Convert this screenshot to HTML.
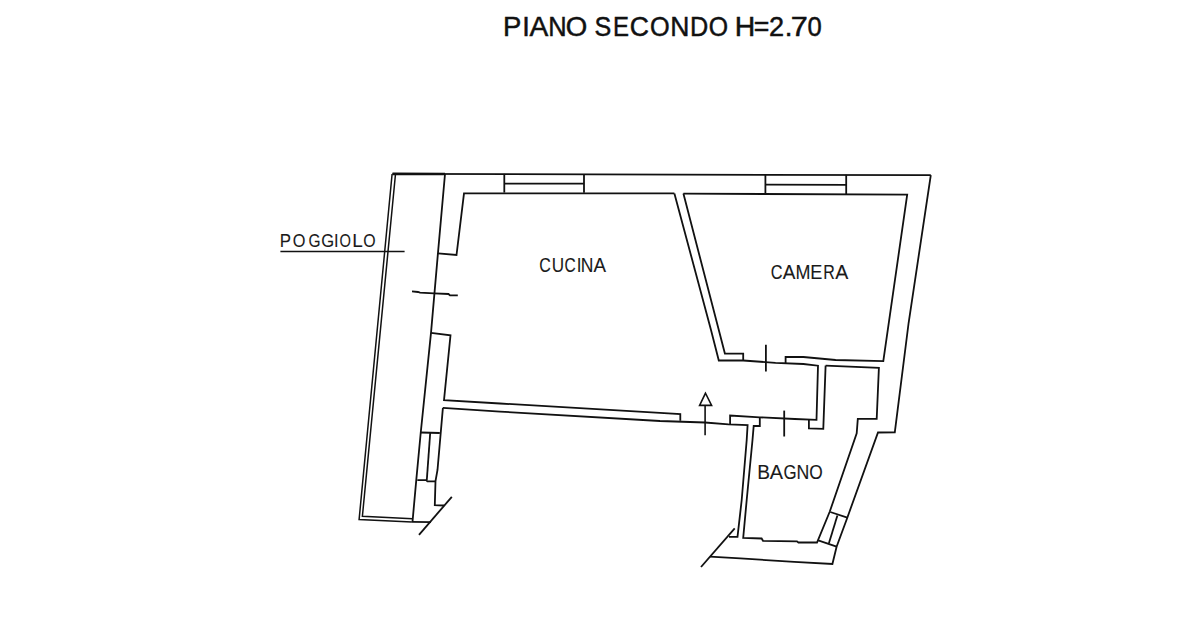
<!DOCTYPE html>
<html><head><meta charset="utf-8">
<style>
html,body{margin:0;padding:0;background:#fff;}
body{width:1200px;height:630px;overflow:hidden;position:relative;}
svg{position:absolute;left:0;top:0;}
</style></head>
<body>
<svg width="1200" height="630" viewBox="0 0 1200 630">
<g fill="#111" font-family="Liberation Sans, sans-serif" font-size="150">
<g stroke="#111" stroke-width="2.6">
<text transform="translate(503.05,36.02) scale(0.1831,0.1849)">P</text>
<text transform="translate(522.27,36.02) scale(0.1812,0.1849)">I</text>
<text transform="translate(529.41,36.02) scale(0.1878,0.1849)">A</text>
<text transform="translate(548.21,36.02) scale(0.1696,0.1849)">N</text>
<text transform="translate(565.81,36.02) scale(0.1843,0.1849)">O</text>
<text transform="translate(594.43,36.02) scale(0.1674,0.1849)">S</text>
<text transform="translate(613.08,36.02) scale(0.1598,0.1849)">E</text>
<text transform="translate(629.68,36.02) scale(0.1771,0.1849)">C</text>
<text transform="translate(650.12,36.02) scale(0.1686,0.1849)">O</text>
<text transform="translate(670.13,36.02) scale(0.1768,0.1849)">N</text>
<text transform="translate(689.88,36.02) scale(0.1685,0.1849)">D</text>
<text transform="translate(708.84,36.02) scale(0.1657,0.1849)">O</text>
<text transform="translate(734.83,36.02) scale(0.1893,0.1832)">H</text>
<text transform="translate(753.75,36.02) scale(0.1781,0.1832)">=</text>
<text transform="translate(768.95,36.02) scale(0.1809,0.1832)">2</text>
<text transform="translate(784.72,36.02) scale(0.1847,0.1832)">.</text>
<text transform="translate(790.86,36.02) scale(0.2044,0.1832)">7</text>
<text transform="translate(807.38,36.02) scale(0.1708,0.1832)">0</text>
</g>
<g fill="#1a1a1a" stroke="#1a1a1a" stroke-width="0.8">
<text transform="translate(279.75,247.37) scale(0.1125,0.1274)">P</text>
<text transform="translate(292.64,247.37) scale(0.1088,0.1274)">O</text>
<text transform="translate(308.43,247.37) scale(0.1031,0.1274)">G</text>
<text transform="translate(321.32,247.37) scale(0.1103,0.1274)">G</text>
<text transform="translate(333.96,247.37) scale(0.1092,0.1274)">I</text>
<text transform="translate(339.61,247.37) scale(0.0980,0.1274)">O</text>
<text transform="translate(352.19,247.37) scale(0.1258,0.1274)">L</text>
<text transform="translate(363.16,247.37) scale(0.1059,0.1274)">O</text>
<text transform="translate(539.15,272.47) scale(0.1064,0.1311)">C</text>
<text transform="translate(551.63,272.47) scale(0.1141,0.1311)">U</text>
<text transform="translate(564.47,272.47) scale(0.1032,0.1311)">C</text>
<text transform="translate(576.72,272.47) scale(0.1132,0.1311)">I</text>
<text transform="translate(580.80,272.47) scale(0.1167,0.1311)">N</text>
<text transform="translate(593.57,272.47) scale(0.1255,0.1311)">A</text>
<text transform="translate(770.63,279.26) scale(0.1085,0.1387)">C</text>
<text transform="translate(782.87,279.26) scale(0.1265,0.1387)">A</text>
<text transform="translate(795.46,279.26) scale(0.1198,0.1387)">M</text>
<text transform="translate(810.35,279.26) scale(0.1207,0.1387)">E</text>
<text transform="translate(823.32,279.26) scale(0.1067,0.1387)">R</text>
<text transform="translate(835.27,279.26) scale(0.1306,0.1387)">A</text>
<text transform="translate(757.27,478.97) scale(0.1275,0.1321)">B</text>
<text transform="translate(769.87,478.97) scale(0.1327,0.1321)">A</text>
<text transform="translate(783.40,478.97) scale(0.1124,0.1321)">G</text>
<text transform="translate(796.39,478.97) scale(0.1179,0.1321)">N</text>
<text transform="translate(809.19,478.97) scale(0.1157,0.1321)">O</text>
</g>
</g>
<g fill="none" stroke="#111" stroke-width="1.8" stroke-linejoin="miter" stroke-linecap="butt">
<!-- label leader -->
<line x1="280.4" y1="251.5" x2="404.6" y2="251.5" stroke-width="1.3"/>
<!-- top outer -->
<polyline points="392.5,173.9 930.8,175.2"/>
<polyline points="392.5,173.9 445,174" stroke-width="2.6"/>
<!-- poggiolo outer double -->
<polyline points="392.1,174 359.1,519.6 411.9,522" stroke-width="1.5"/>
<polyline points="411.9,521.8 431,522.1"/>
<polyline points="395.4,175 362.4,516.2 412.5,518.7" stroke-width="1.5"/>
<!-- apartment outer left wall -->
<polyline points="445,174 438,252.6 431,332.9 420.8,432 416.2,480.8 412.5,521.8"/>
<!-- cucina left & top -->
<polyline points="438,253.4 456.5,255 464,193.3 674.4,193.4"/>
<!-- left wall lower pieces -->
<polyline points="431,332.9 450.5,335.4 444,400.2 500,403.5 660,412.9 680.3,414 680.3,420.8"/>
<polyline points="442.9,407.8 437.5,470 435.5,481 434.8,505.1 444,505.5"/>
<polyline points="420.8,432.5 439.8,433"/>
<polyline points="430.2,433 426.8,480"/>
<polyline points="417.3,480.1 426.2,480.1 427.4,481.3 435.7,481.3"/>
<polyline points="451.8,496.8 419,534.9"/>
<!-- cross on left wall -->
<polyline points="412,291.3 418,292 420,292.7 434,293.4 448.5,294 450,295.4 457.8,295.4"/>
<!-- window 1 -->
<polyline points="504.3,173.9 504.3,192.6"/>
<polyline points="584,174 584,192.8"/>
<polyline points="504.3,183.6 584,183.7"/>
<!-- window 2 -->
<polyline points="765.4,174.4 765.4,193.9"/>
<polyline points="846.2,174.8 846.2,194.2"/>
<polyline points="765.4,184.6 846.2,184.8"/>
<!-- partition cucina/camera -->
<polyline points="674.4,193.4 711,330 718.8,360.5 743.2,360.5 775.5,362.8 803.4,364 818,365.7 816.5,419.9 794.7,419 759.8,417.3 730.1,415.5 730.1,425"/>
<polyline points="683.4,193.6 907.2,194.7 883.3,361.1 835.6,360 803.4,357 785.6,357 785.6,363"/>
<polyline points="683.4,193.6 718.8,330 724.9,353.6 743.2,353.6 743.2,360.5"/>
<!-- outer right wall -->
<polyline points="930.8,175.2 908.6,323 894.8,432.3 878,432.5 847.3,517.7 836.6,546.7 832.4,564 794.2,561.9 740.3,558.4 709.9,556.7"/>
<polyline points="734.7,528.3 701,567"/>
<polyline points="729,536.8 737.5,536.8 741.7,500 746.7,440 747.6,425.1 728.6,424.3 705,422.5 660,421 500,411.6 442.9,407.8"/>
<!-- bagno walls -->
<polyline points="825.6,365.6 878.9,367.8 876.7,418.9 857.8,418.9 856.7,433.3 829.7,511.8 817,542.5 798.4,542.5 797,541.4 763,540.8 761.6,538.5 743.2,538 746.7,500 752.5,440 753.7,426 759.8,426 759.8,417.3"/>
<polyline points="825.6,365.6 823.3,428.9 808.9,428.4 808.9,420"/>
<!-- bagno window -->
<polyline points="830.3,512 847.3,517.7"/>
<polyline points="818.2,540.4 836.6,546.7"/>
<polyline points="837.4,515.6 828.9,543.2"/>
<!-- door marks -->
<polyline points="765.9,344.8 765.9,371.5"/>
<polyline points="784.2,410.6 784.2,436.5"/>
<!-- arrow -->
<polygon points="705.5,393.2 699.6,405.4 711.6,405.4" stroke-width="1.6"/>
<polyline points="705.1,405.4 705.1,435.2" stroke-width="1.6"/>
</g>
</svg>
</body></html>
